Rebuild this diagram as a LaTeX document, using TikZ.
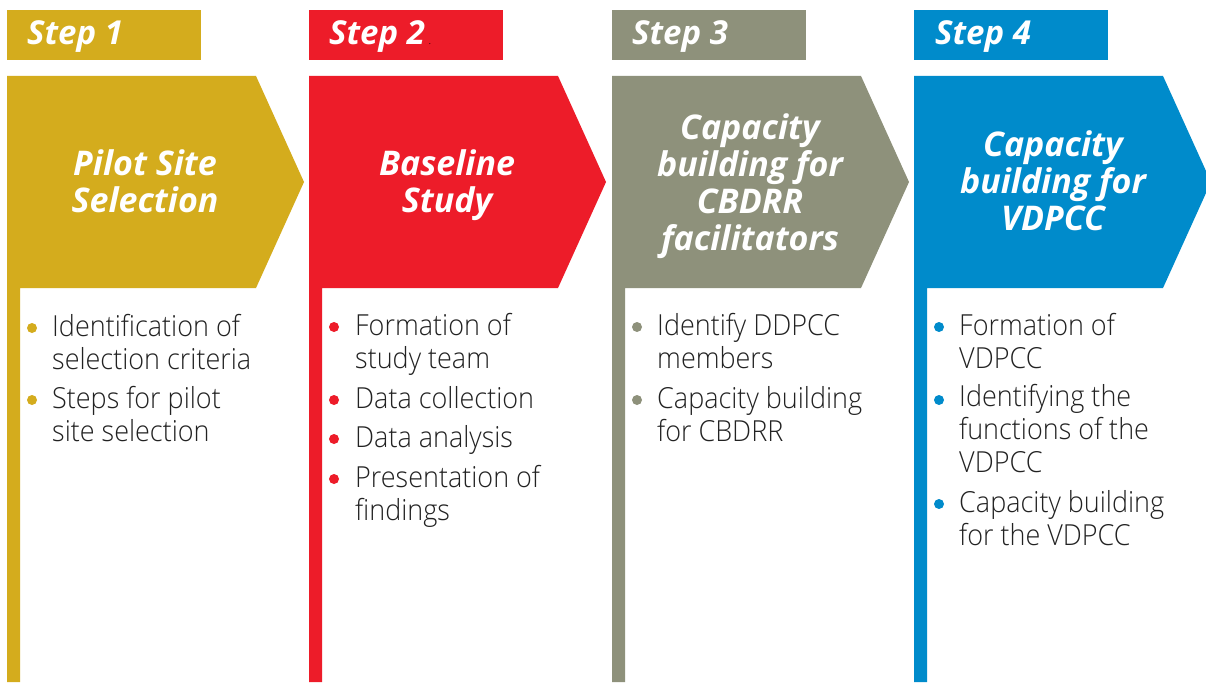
\documentclass[tikz,border=0pt]{standalone}
\usepackage{fontspec}
\setmainfont{Open Sans}
\IfFontExistsTF{Open Sans Light}
  {\newfontfamily\bodyfont[FakeStretch=0.93]{Open Sans Light}}
  {\newfontfamily\bodyfont[FakeStretch=0.93]{Open Sans}}
\definecolor{cgold}{HTML}{D4AC1D}
\definecolor{cred}{HTML}{ED1C29}
\definecolor{colive}{HTML}{8E917B}
\definecolor{cblue}{HTML}{008BCB}
\definecolor{ctxt}{HTML}{222222}
\tikzset{
  hdr/.style={font=\fontsize{33}{37}\selectfont\bfseries\itshape, text=white, anchor=base west, inner sep=0pt},
  ttl/.style={font=\fontsize{34}{37}\selectfont\bfseries\itshape, text=white, align=center, anchor=base, inner sep=0pt},
  item/.style={font=\bodyfont\fontsize{29}{33}\selectfont, text=ctxt, align=left, anchor=base west, inner sep=0pt},
}
\begin{document}
\begin{tikzpicture}[x=1pt,y=-1pt]
\useasboundingbox (0,0) rectangle (1206,682);
\fill[white] (0,0) rectangle (1206,682);
% shapes
\foreach \x/\c in {7/cgold,309/cred,612/colive,914/cblue}{
  \fill[\c] (\x,10) rectangle ++(194,50);
  \fill[\c] (\x,76) -- ++(249,0) -- ++(48,106) -- ++(-48,106) -- (\x+13,288) -- (\x+13,682) -- (\x,682) -- cycle;
}
% headers
\node[hdr] (h1) at (27,45) {Step 1};
\node[hdr] (h2) at (329,45) {Step 2};
\node[font=\fontsize{8}{8}\selectfont, text=black, anchor=base, inner sep=0pt] (h2dot) at (430,45) {.};
\node[hdr] (h3) at (632,45) {Step 3};
\node[hdr] (h4) at (935,45) {Step 4};
% titles (base anchor = last line baseline)
\node[ttl] (t1) at (145,212) {Pilot Site\\Selection};
\node[ttl] (t2) at (447,212) {Baseline\\Study};
\node[ttl] (t3) at (750,250) {Capacity\\building for\\CBDRR\\facilitators};
\node[ttl] (t4) at (1053,230) {Capacity\\building for\\VDPCC};
% bullets
\foreach \x/\y/\c in {7/336/cgold,7/408/cgold,
  309/335/cred,309/408/cred,309/447/cred,309/487/cred,
  612/335/colive,612/408/colive,
  914/335/cblue,914/408/cblue,914/512/cblue}{
  \fill[\c] (\x+25,\y-8) circle[radius=5pt];
}
% items
\node[item] (a1) at (52,369) {Identification of\\selection criteria};
\node[item] (a2) at (52,441) {Steps for pilot\\site selection};
\node[item] (b1) at (355,368) {Formation of\\study team};
\node[item] (b2) at (355,408) {Data collection};
\node[item] (b3) at (355,447) {Data analysis};
\node[item] (b4) at (355,520) {Presentation of\\findings};
\node[item] (c1) at (657,368) {Identify DDPCC\\members};
\node[item] (c2) at (657,441) {Capacity building\\for CBDRR};
\node[item] (d1) at (959,368) {Formation of\\VDPCC};
\node[item] (d2) at (959,472) {Identifying the\\functions of the\\VDPCC};
\node[item] (d3) at (959,545) {Capacity building\\for the VDPCC};
\end{tikzpicture}
\end{document}
